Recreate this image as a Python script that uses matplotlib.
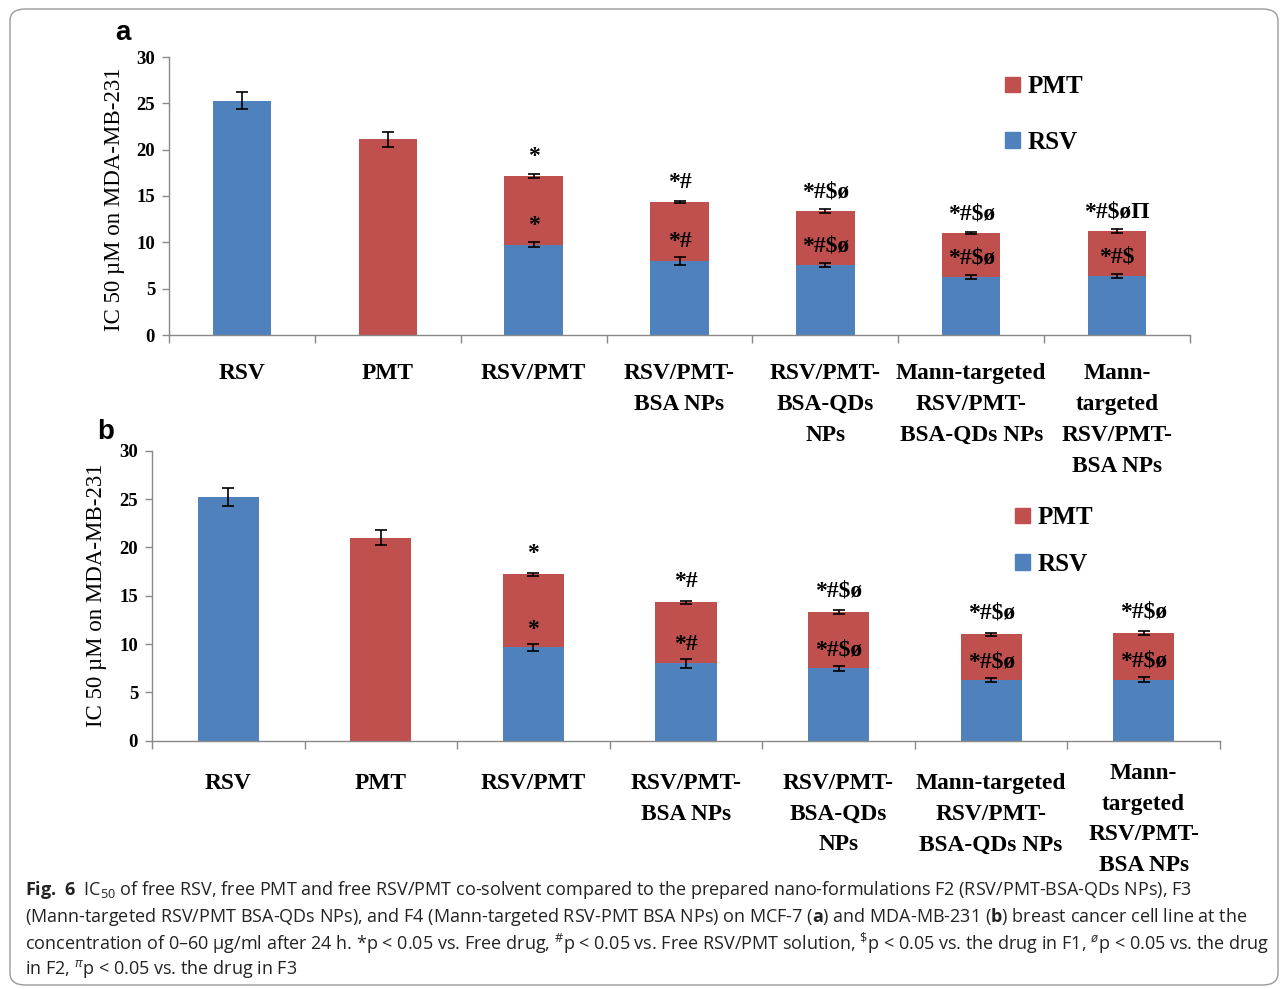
import matplotlib
matplotlib.use("Agg")
import matplotlib.pyplot as plt
from matplotlib import font_manager
from matplotlib.patches import FancyBboxPatch, Patch
from matplotlib.transforms import ScaledTranslation
import numpy as np

# ---- data ----
categories = ["RSV", "PMT", "RSV/PMT", "RSV/PMT-\nBSA NPs", "RSV/PMT-\nBSA-QDs\nNPs",
              "Mann-targeted\nRSV/PMT-\nBSA-QDs NPs", "Mann-\ntargeted\nRSV/PMT-\nBSA NPs"]

# panel a
a_rsv = [25.3, 0.0, 9.75, 8.0, 7.55, 6.25, 6.35]
a_rsv_err = [0.9, 0.0, 0.3, 0.4, 0.25, 0.2, 0.25]
a_total = [25.3, 21.1, 17.15, 14.35, 13.35, 11.0, 11.2]
a_total_err = [0.0, 0.8, 0.2, 0.15, 0.2, 0.1, 0.2]
a_top_marks = ["", "", "*", "*#", "*#$ø", "*#$ø", "*#$øΠ"]
a_mid_marks = ["", "", "*", "*#", "*#$ø", "*#$ø", "*#$"]

# panel b
b_rsv = [25.2, 0.0, 9.65, 8.0, 7.5, 6.25, 6.3]
b_rsv_err = [0.9, 0.0, 0.35, 0.45, 0.25, 0.2, 0.25]
b_total = [25.2, 21.0, 17.2, 14.3, 13.3, 11.0, 11.15]
b_total_err = [0.0, 0.8, 0.2, 0.2, 0.2, 0.15, 0.2]
b_top_marks = ["", "", "*", "*#", "*#$ø", "*#$ø", "*#$ø"]
b_mid_marks = ["", "", "*", "*#", "*#$ø", "*#$ø", "*#$ø"]

BLUE = "#4F81BD"
RED = "#C0504D"
SERIF = "Liberation Serif"

fig = plt.figure(figsize=(12.84, 9.89), dpi=100)

# rounded frame around the figure
frame = FancyBboxPatch((10 / 1284, 4 / 989), 1268 / 1284, 976 / 989,
                       boxstyle="round,pad=0,rounding_size=0.012",
                       transform=fig.transFigure, fill=False,
                       edgecolor="#9a9a9a", linewidth=1.0)
fig.patches.append(frame)


def draw_panel(rect, rsv, rsv_err, total, total_err, top_marks, mid_marks,
               legend_anchor, legend_spacing, top_off, mid_off, xpad, last_lift=0):
    ax = fig.add_axes(rect)
    ax.patch.set_alpha(0)
    x = np.arange(len(categories))
    pmt = [t - r for t, r in zip(total, rsv)]
    ax.bar(x, rsv, width=0.4, color=BLUE, zorder=2)
    ax.bar(x, pmt, width=0.4, bottom=rsv, color=RED, zorder=2)
    ekw = dict(fmt="none", ecolor="black", elinewidth=1.2, capsize=4, capthick=1.2, zorder=3)
    mask_r = [e > 0 for e in rsv_err]
    ax.errorbar(x[mask_r], np.array(rsv)[mask_r], yerr=np.array(rsv_err)[mask_r], **ekw)
    mask_t = [e > 0 for e in total_err]
    ax.errorbar(x[mask_t], np.array(total)[mask_t], yerr=np.array(total_err)[mask_t], **ekw)

    for i in range(len(categories)):
        if top_marks[i]:
            ax.text(x[i], total[i] + top_off, top_marks[i], ha="center", va="center",
                    family=SERIF, fontweight="bold", fontsize=17, zorder=4)
        if mid_marks[i]:
            ax.text(x[i], rsv[i] + mid_off, mid_marks[i], ha="center", va="center",
                    family=SERIF, fontweight="bold", fontsize=17, zorder=4)

    ax.set_xlim(-0.5, len(categories) - 0.5)
    ax.set_ylim(0, 30)
    ax.set_yticks(range(0, 31, 5))
    ax.set_xticks(x)
    ax.set_xticklabels(categories, family=SERIF, fontweight="bold", fontsize=16.8,
                       linespacing=1.62, va="top")
    ax.set_xticks(np.arange(-0.5, len(categories), 1.0), minor=True)
    ax.tick_params(axis="x", which="major", length=0, pad=xpad)
    ax.tick_params(axis="x", which="minor", length=6, color="#888888", width=1)
    ax.tick_params(axis="y", length=5, color="#888888", width=1, pad=5)
    for lab in ax.get_yticklabels():
        lab.set_family(SERIF)
        lab.set_fontweight("bold")
        lab.set_fontsize(13.5)
    if last_lift:
        lab = ax.get_xticklabels()[-1]
        lab.set_transform(lab.get_transform() +
                          ScaledTranslation(0, last_lift / 100, fig.dpi_scale_trans))
    for s in ("top", "right"):
        ax.spines[s].set_visible(False)
    for s in ("left", "bottom"):
        ax.spines[s].set_color("#888888")
        ax.spines[s].set_linewidth(1.0)

    handles = [Patch(color=RED, label="PMT"), Patch(color=BLUE, label="RSV")]
    ax.legend(handles=handles, loc="upper left", bbox_to_anchor=legend_anchor,
              frameon=False, handlelength=0.6, handleheight=0.6, handletextpad=0.3,
              labelspacing=legend_spacing,
              prop=dict(family=SERIF, weight="bold", size=18))
    return ax


ax_a = draw_panel([169 / 1284, 1 - 335 / 989, 1021 / 1284, 278 / 989],
                  a_rsv, a_rsv_err, a_total, a_total_err, a_top_marks, a_mid_marks,
                  legend_anchor=(0.797, 1.015), legend_spacing=1.3,
                  top_off=2.1, mid_off=2.1, xpad=20)
ax_a.set_ylabel("IC 50 µM on MDA-MB-231", family=SERIF, fontsize=16.5)
ax_a.yaxis.set_label_coords(-0.043, 0.49)

ax_b = draw_panel([152 / 1284, 1 - 740.7 / 989, 1068 / 1284, 290 / 989],
                  b_rsv, b_rsv_err, b_total, b_total_err, b_top_marks, b_mid_marks,
                  legend_anchor=(0.787, 0.886), legend_spacing=0.95,
                  top_off=2.2, mid_off=1.9, xpad=23, last_lift=10)
ax_b.set_ylabel("IC 50 µM on MDA-MB-231", family=SERIF, fontsize=16.5)
ax_b.yaxis.set_label_coords(-0.042, 0.5)

# panel letters
fig.text(123 / 1284, 1 - 33 / 989, "a", family="Liberation Sans", fontweight="bold",
         fontsize=20, ha="center", va="center")
fig.text(106 / 1284, 1 - 432 / 989, "b", family="Liberation Sans", fontweight="bold",
         fontsize=20, ha="center", va="center")

# caption
avail = {f.name for f in font_manager.fontManager.ttflist}
cap_font = "Liberation Sans Narrow" if "Liberation Sans Narrow" in avail else "Open Sans"
plt.rcParams["mathtext.fontset"] = "custom"
plt.rcParams["mathtext.rm"] = cap_font
plt.rcParams["mathtext.it"] = cap_font + ":italic"
plt.rcParams["mathtext.bf"] = cap_font + ":bold"

caption_lines = [
    r"$\mathbf{Fig.\ 6}$  IC$_{50}$ of free RSV, free PMT and free RSV/PMT co-solvent compared to the prepared nano-formulations F2 (RSV/PMT-BSA-QDs NPs), F3",
    r"(Mann-targeted RSV/PMT BSA-QDs NPs), and F4 (Mann-targeted RSV-PMT BSA NPs) on MCF-7 ($\mathbf{a}$) and MDA-MB-231 ($\mathbf{b}$) breast cancer cell line at the",
    r"concentration of 0–60 µg/ml after 24 h. *p < 0.05 vs. Free drug, $^{\#}$p < 0.05 vs. Free RSV/PMT solution, $^{\$}$p < 0.05 vs. the drug in F1, $^{ø}$p < 0.05 vs. the drug",
    r"in F2, $^{π}$p < 0.05 vs. the drug in F3",
]
cap_y = [890, 917, 943, 969]
texts = []
for line, yy in zip(caption_lines, cap_y):
    t = fig.text(25 / 1284, 1 - yy / 989, line, family=cap_font, fontsize=12,
                 ha="left", va="center", color="#222222")
    texts.append(t)

# scale caption size so that the widest line fits inside the frame
fig.canvas.draw()
renderer = fig.canvas.get_renderer()
w = max(t.get_window_extent(renderer).width for t in texts)
scale = (1266 - 25) / w
for t in texts:
    t.set_fontsize(12 * scale)

fig.savefig("out.png", dpi=100)
